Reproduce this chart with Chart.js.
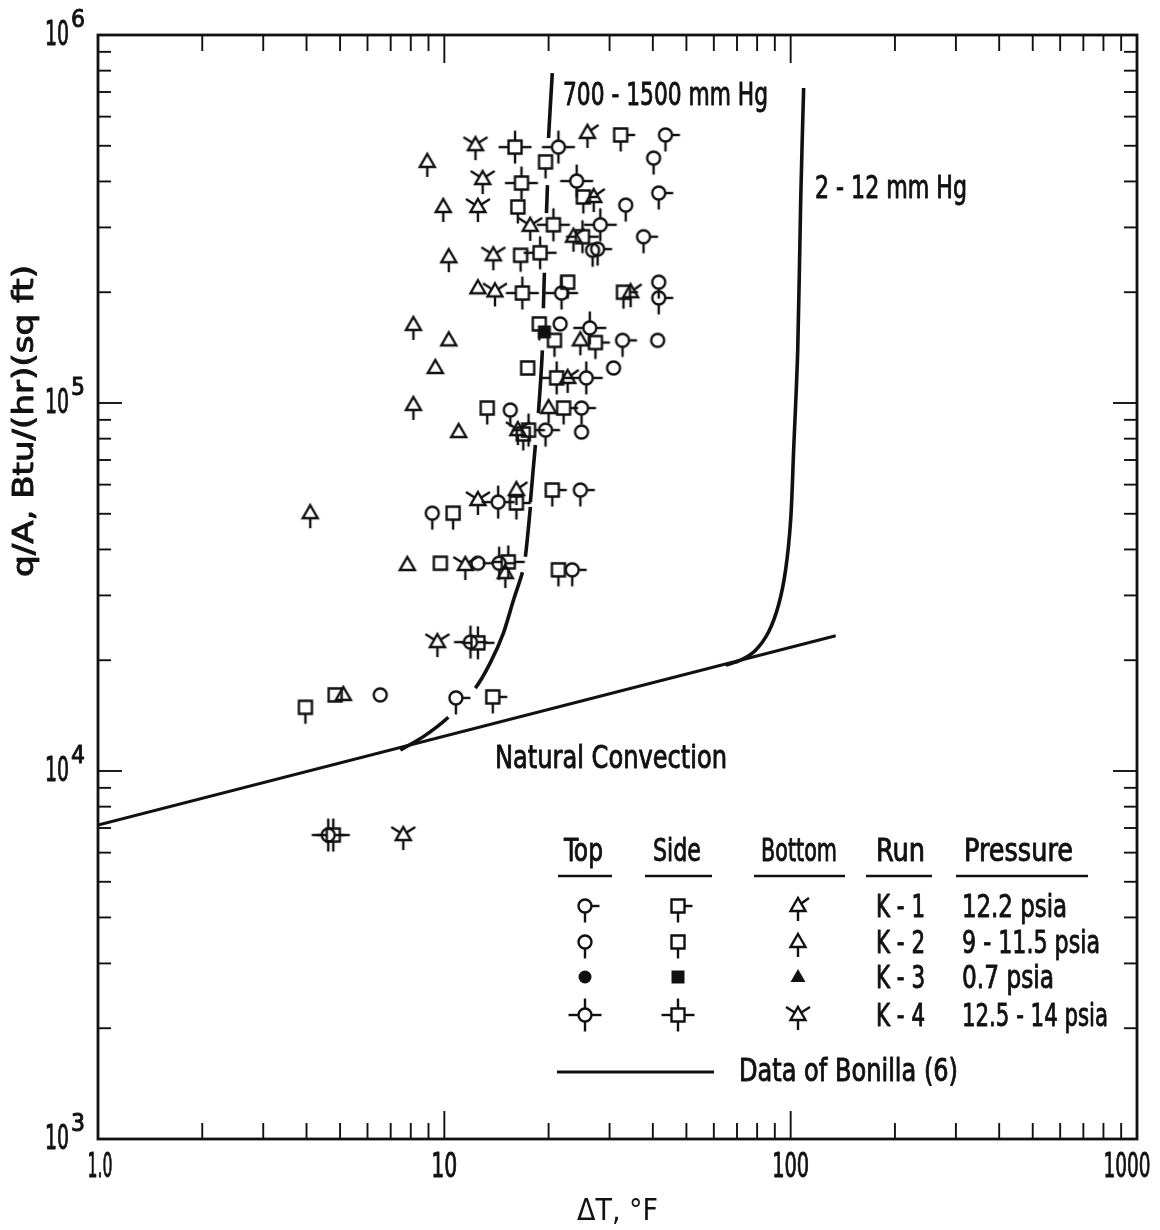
<!DOCTYPE html>
<html><head><meta charset="utf-8">
<script src="https://cdn.jsdelivr.net/npm/chart.js@4/dist/chart.umd.min.js"></script>
<style>html,body{margin:0;padding:0;background:#fff}#wrap{width:1160px;height:1230px;position:relative}</style>
</head><body><div id="wrap"><canvas id="c"></canvas></div>
<script>
const FONT = "'Liberation Sans Narrow','DejaVu Sans Condensed','Liberation Sans',sans-serif";

// ---- axis tick labels ----
const xTickValues = [1, 10, 100, 1000];
const xTickLabels = ['1.0', '10', '100', '1000'];
const yTickValues = [1e6, 1e5, 1e4, 1e3];
const yTickExponents = ['6', '5', '4', '3'];

// ---- data: [ΔT (°F), q/A (Btu/hr sq ft)] ----
const topK1 = [[43.5,5.35e5],[41.6,3.72e5],[37.6,2.83e5],[27.7,2.62e5],[41.6,1.93e5],[32.7,1.48e5],[24.9,9.69e4],[19.6,8.44e4],[24.7,5.8e4],[23.4,3.52e4],[10.8,1.58e4]];
const topK2 = [[40.2,4.63e5],[33.4,3.45e5],[26.8,2.6e5],[41.6,2.13e5],[15.5,9.57e4],[9.23,5.02e4]];
const topK4 = [[21.35,4.96e5],[24.1,4.01e5],[28.2,3.05e5],[21.8,1.99e5],[26.3,1.6e5],[25.7,1.17e5],[14.3,5.38e4],[14.4,3.67e4],[11.9,2.24e4],[4.62,6.7e3]];
const topPlain = [[21.6,1.64e5],[41.3,1.48e5],[30.8,1.245e5],[24.9,8.34e4],[12.5,3.67e4],[6.53,1.61e4]];
const sideK1 = [[32.3,5.35e5],[25.2,3.63e5],[32.9,2.0e5],[27.3,1.46e5],[22.1,9.69e4],[20.5,5.8e4],[16.15,5.35e4],[13.8,1.59e4]];
const sideK2 = [[19.6,4.52e5],[16.3,3.41e5],[16.6,2.52e5],[22.7,2.13e5],[18.8,1.64e5],[20.8,1.48e5],[13.3,9.69e4],[16.9,8.24e4],[10.6,5.02e4],[21.35,3.52e4],[3.97,1.49e4]];
const sideK3 = [[19.45,1.56e5]];
const sideK4 = [[16.0,4.96e5],[16.7,3.96e5],[20.65,3.05e5],[25.05,2.83e5],[18.9,2.56e5],[16.8,1.99e5],[21.1,1.17e5],[17.5,8.44e4],[15.3,3.7e4],[12.5,2.23e4],[4.78,6.7e3]];
const sidePlain = [[17.4,1.245e5],[9.74,3.67e4],[4.84,1.61e4]];
const bottomK1 = [[25.9,5.42e5],[27.0,3.63e5],[23.6,2.83e5],[34.5,2.0e5],[22.7,1.17e5],[16.15,5.8e4]];
const bottomK2 = [[8.93,4.52e5],[9.93,3.41e5],[10.3,2.49e5],[8.14,1.63e5],[24.7,1.48e5],[8.14,9.88e4],[20.0,9.69e4],[15.0,3.45e4],[4.1,5.02e4]];
const bottomK4 = [[12.3,5.02e5],[12.9,4.06e5],[12.5,3.41e5],[17.7,3.03e5],[13.85,2.52e5],[14.0,2.01e5],[16.3,8.44e4],[12.5,5.45e4],[11.5,3.63e4],[9.55,2.24e4],[7.61,6.7e3]];
const bottomPlain = [[12.5,2.05e5],[10.3,1.48e5],[9.42,1.245e5],[11.0,8.34e4],[7.82,3.63e4],[5.11,1.61e4]];

// ---- Bonilla curves ----
const curve700to1500 = [[20.5,7.88e5],[20.0,5.25e5],[19.85,3.91e5],[19.72,3.28e5],[19.45,2.26e5],[19.32,1.81e5],[19.19,1.39e5],[18.69,9.39e4],[18.32,7.69e4],[17.72,5.38e4],[17.72,5.22e4],[17.14,3.82e4],[16.81,3.47e4],[15.83,2.91e4],[14.81,2.37e4],[13.58,1.97e4],[12.29,1.68e4],[10.27,1.40e4],[8.70,1.24e4],[7.46,1.14e4]];
const curve700Breaks = [1,3,5,7,9,11,16];
const curve2to12 = [[109,7.18e5],[106.9,3.56e5],[104.8,1.39e5],[102,7.45e4],[100,4.81e4],[96.7,3.52e4],[92.3,2.83e4],[86.4,2.39e4],[79.2,2.13e4],[71.7,2.0e4],[64.9,1.94e4]];
const naturalConvection = [[1,7.13e3],[134.9,2.33e4]];

// ---- legend text ----
const legendHeaders = ['Top','Side','Bottom','Run','Pressure'];
const legendRuns = ['K - 1','K - 2','K - 3','K - 4'];
const legendPressures = ['12.2 psia','9 - 11.5 psia','0.7 psia','12.5 - 14 psia'];

const INK = '#111';

function makeMarker(shape, run) {
  const c = document.createElement('canvas'); c.width = 44; c.height = 44;
  const g = c.getContext('2d'); g.translate(22, 22);
  g.strokeStyle = INK; g.fillStyle = INK; g.lineWidth = 2.4;
  let top, bottom, left, right;
  g.beginPath();
  if (shape === 'circle') { g.arc(0, 0, 6.5, 0, Math.PI * 2); top = -6.5; bottom = 6.5; left = -6.5; right = 6.5; }
  else if (shape === 'square') { g.rect(-6.5, -6.5, 13, 13); top = -6.5; bottom = 6.5; left = -6.5; right = 6.5; }
  else { g.moveTo(0, -8); g.lineTo(7.5, 5); g.lineTo(-7.5, 5); g.closePath(); top = -8; bottom = 5; left = -7.5; right = 7.5; }
  if (run === 3) g.fill(); else g.stroke();
  const line = (a, b, c2, d) => { g.beginPath(); g.moveTo(a, b); g.lineTo(c2, d); g.stroke(); };
  if (run === 1 || run === 2 || run === 4) line(0, bottom, 0, bottom + 10);
  if (shape !== 'triangle') {
    if (run === 1) line(right, 0, right + 8, 0);
    if (run === 4) { line(0, top, 0, top - 10); line(left, 0, left - 10, 0); line(right, 0, right + 10, 0); }
  } else {
    if (run === 1) line(2.5, -2, 11, -8);
    if (run === 4) { line(-2.5, -2, -12, -8); line(2.5, -2, 12, -8); }
  }
  return c;
}
const M = {};
['circle','square','triangle'].forEach(s => [0,1,2,3,4].forEach(r => { M[s + r] = makeMarker(s, r); }));

const toXY = arr => arr.map(p => ({ x: p[0], y: p[1] }));
const pointSeries = [
  ['Top K-1', topK1, 'circle1'], ['Top K-2', topK2, 'circle2'], ['Top K-4', topK4, 'circle4'], ['Top', topPlain, 'circle0'],
  ['Side K-1', sideK1, 'square1'], ['Side K-2', sideK2, 'square2'], ['Side K-3', sideK3, 'square3'], ['Side K-4', sideK4, 'square4'], ['Side', sidePlain, 'square0'],
  ['Bottom K-1', bottomK1, 'triangle1'], ['Bottom K-2', bottomK2, 'triangle2'], ['Bottom K-4', bottomK4, 'triangle4'], ['Bottom', bottomPlain, 'triangle0']
];
const datasets = pointSeries.map(([label, arr, key]) => ({
  label, data: toXY(arr), pointStyle: M[key], pointRadius: 8, pointHoverRadius: 8, showLine: false
}));
datasets.push({ label: '700-1500 mm Hg', data: toXY(curve700to1500), showLine: true, pointRadius: 0, borderWidth: 3.6, borderColor: INK, tension: 0.25,
  segment: { borderColor: c => curve700Breaks.includes(c.p0DataIndex) ? 'rgba(0,0,0,0)' : INK } });
datasets.push({ label: '2-12 mm Hg', data: toXY(curve2to12), showLine: true, pointRadius: 0, borderWidth: 3.6, borderColor: INK, tension: 0.3 });
datasets.push({ label: 'Natural Convection', data: toXY(naturalConvection), showLine: true, pointRadius: 0, borderWidth: 3.2, borderColor: INK, tension: 0 });

function fitText(ctx, txt, x, y, w, size) {
  ctx.save(); ctx.font = size + 'px ' + FONT;
  const m = ctx.measureText(txt).width; const s = w / m;
  ctx.translate(x, y); ctx.scale(s, 1); ctx.textBaseline = 'middle'; ctx.textAlign = 'left';
  ctx.lineWidth = 0.9; ctx.lineJoin = 'round'; ctx.strokeStyle = INK; ctx.fillStyle = INK;
  ctx.fillText(txt, 0, 0); ctx.strokeText(txt, 0, 0); ctx.restore();
}
function seg(ctx, a, b, c, d) { ctx.beginPath(); ctx.moveTo(a, b); ctx.lineTo(c, d); ctx.stroke(); }

const deco = {
  id: 'deco',
  afterDatasetsDraw(chart) {
    const { ctx, chartArea: a, scales: { x, y } } = chart;
    ctx.save();
    ctx.strokeStyle = INK; ctx.fillStyle = INK;
    ctx.lineWidth = 2.8;
    ctx.strokeRect(a.left, a.top, a.right - a.left, a.bottom - a.top);
    ctx.lineWidth = 1.9;
    for (let d = 1; d < 1000; d *= 10) for (let m = 1; m <= 9; m++) {
      const v = d * m; if (v === 1) continue;
      const px = x.getPixelForValue(v); const len = m === 1 ? 28 : 16;
      seg(ctx, px, a.bottom, px, a.bottom - len); seg(ctx, px, a.top, px, a.top + len);
    }
    for (let d = 1000; d < 1e6; d *= 10) for (let m = 1; m <= 9; m++) {
      const v = d * m; if (v === 1000) continue;
      const py = y.getPixelForValue(v); const len = m === 1 ? 24 : 13;
      seg(ctx, a.left, py, a.left + len, py); seg(ctx, a.right, py, a.right - len, py);
    }
    // tick labels
    const xw = [25, 26, 37, 47], xc = [100, 444, 791, 1127];
    xTickValues.forEach((v, i) => {
      const w = xw[i]; const cx = (i === 0 || i === 3) ? xc[i] : x.getPixelForValue(v);
      fitText(ctx, xTickLabels[i], cx - w / 2, a.bottom + 29, w, 33);
    });
    yTickValues.forEach((v, i) => {
      const py = y.getPixelForValue(v);
      fitText(ctx, '10', 45, py + 1, 24, 33);
      fitText(ctx, yTickExponents[i], 71, py - 15, 14, 25);
    });
    // y title
    ctx.save(); ctx.translate(25, 577); ctx.rotate(-Math.PI / 2);
    fitText(ctx, 'q/A, Btu/(hr)(sq ft)', 0, 0, 312, 29); ctx.restore();
    // curve labels
    fitText(ctx, '700 - 1500 mm Hg', 563, 97, 205, 32);
    fitText(ctx, '2 - 12 mm Hg', 815, 190, 152, 32);
    fitText(ctx, 'Natural Convection', 495, 760, 232, 32);
    // legend
    const hx = [564, 653, 761, 876, 964], hw = [39, 48, 76, 49, 109];
    const ux = [[558,612],[645,712],[754,845],[866,932],[956,1088]];
    legendHeaders.forEach((h, i) => fitText(ctx, h, hx[i], 853, hw[i], 32));
    ctx.lineWidth = 2.4;
    ux.forEach(u => seg(ctx, u[0], 876, u[1], 876));
    const ry = [909, 945, 980, 1018];
    const pw = [105, 138, 92, 146];
    legendRuns.forEach((r, i) => {
      const run = i + 1; const yy = ry[i];
      [['circle', 585], ['square', 678], ['triangle', 798]].forEach(([s, cx]) => {
        const img = M[s + run]; ctx.drawImage(img, cx - 22, yy - 3 - 22);
      });
      fitText(ctx, r, 876, yy, 49, 32);
      fitText(ctx, legendPressures[i], 962, yy, pw[i], 32);
    });
    ctx.lineWidth = 3.2;
    seg(ctx, 557, 1072, 714, 1072);
    fitText(ctx, 'Data of Bonilla (6)', 739, 1073, 219, 32);
    ctx.restore();
  }
};

new Chart(document.getElementById('c'), {
  type: 'scatter',
  data: { datasets },
  options: {
    responsive: true, maintainAspectRatio: false, animation: false,
    layout: { padding: { left: 0, right: 23, top: 35, bottom: 0 } },
    plugins: { legend: { display: false }, tooltip: { enabled: false } },
    scales: {
      x: { type: 'logarithmic', min: 1, max: 1000, grid: { display: false }, border: { display: false }, ticks: { display: false },
           title: { display: true, text: 'ΔT, °F', color: INK, font: { family: FONT, size: 30 }, padding: { top: 0, bottom: 0 } },
           afterFit: s => { s.height = 91; } },
      y: { type: 'logarithmic', min: 1000, max: 1e6, grid: { display: false }, border: { display: false }, ticks: { display: false },
           afterFit: s => { s.width = 98; } }
    }
  },
  plugins: [deco]
});
</script></body></html>
